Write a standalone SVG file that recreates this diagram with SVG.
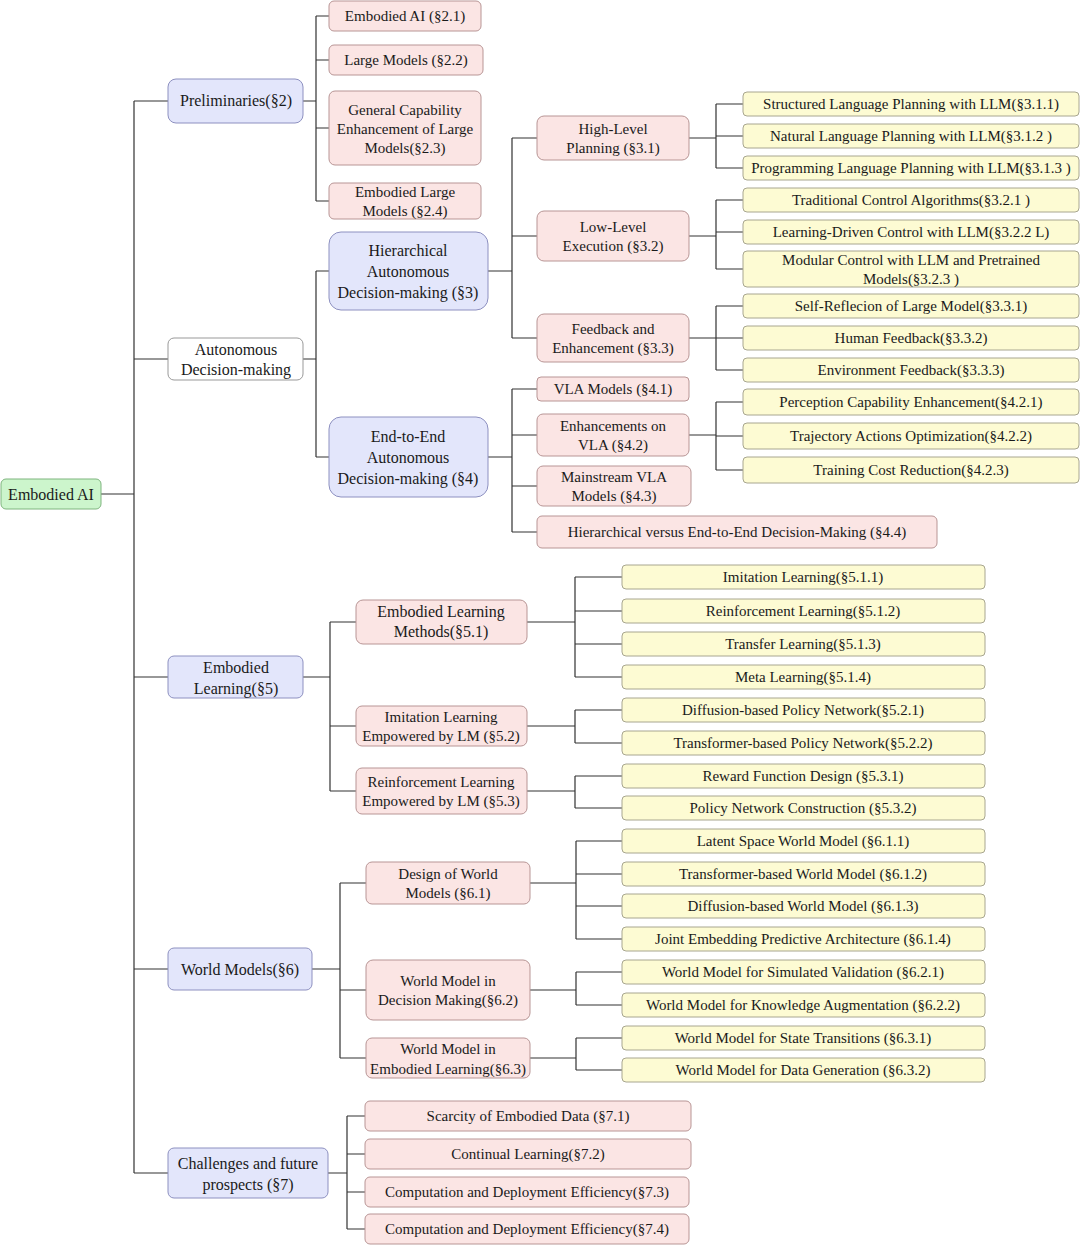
<svg xmlns="http://www.w3.org/2000/svg" width="1080" height="1245" viewBox="0 0 1080 1245">
<style>
text{font-family:"Liberation Serif","Times New Roman",serif;font-size:15px;fill:#1a1a1a;text-anchor:middle}
.big{font-size:16px}
rect{stroke-width:1}
.g{fill:#ccf5cc;stroke:#7fb57f}
.b{fill:#e3e6fb;stroke:#8d90c0}
.p{fill:#fbe5e4;stroke:#b89595}
.y{fill:#fdfbd3;stroke:#a8a690}
.w{fill:#fff;stroke:#999}
#conn path{fill:none;stroke:#333;stroke-width:1.2}
</style>
<rect width="1080" height="1245" fill="#fff"/>
<g id="conn">
<path d="M101,494H134M134,101V1173M134,101H168M134,359H168M134,677H168M134,969H168M134,1173H168"/>
<path d="M303,101H316M316,16V201M316,16H329M316,60H329M316,128H329M316,201H329"/>
<path d="M303,359H316M316,271V457M316,271H329M316,457H329"/>
<path d="M488,271H512M512,138V338M512,138H537M512,236H537M512,338H537"/>
<path d="M689,138H716M716,104V168M716,104H743M716,136H743M716,168H743"/>
<path d="M689,236H716M716,200V269M716,200H743M716,232H743M716,269H743"/>
<path d="M689,338H716M716,306V370M716,306H743M716,338H743M716,370H743"/>
<path d="M488,457H512M512,389V532M512,389H537M512,435H537M512,486H537M512,532H537"/>
<path d="M689,435H716M716,402V470M716,402H743M716,436H743M716,470H743"/>
<path d="M303,677H330M330,622V791M330,622H356M330,726H356M330,791H356"/>
<path d="M527,622H575M575,577V677M575,577H622M575,611H622M575,644H622M575,677H622"/>
<path d="M527,726H575M575,710V743M575,710H622M575,743H622"/>
<path d="M527,791H575M575,776V808M575,776H622M575,808H622"/>
<path d="M312,969H340M340,883V1058M340,883H366M340,990H366M340,1058H366"/>
<path d="M530,883H576M576,841V939M576,841H622M576,874H622M576,906H622M576,939H622"/>
<path d="M530,990H576M576,972V1005M576,972H622M576,1005H622"/>
<path d="M530,1058H576M576,1038V1070M576,1038H622M576,1070H622"/>
<path d="M328,1173H347M347,1116V1229M347,1116H365M347,1154H365M347,1192H365M347,1229H365"/>
</g>
<g id="root"><rect class="g" x="1" y="479" width="100" height="30" rx="5"/><text class="big" x="51" y="500">Embodied AI</text></g>
<g id="n2"><rect class="b" x="168" y="79" width="135" height="44" rx="8"/><text class="big" x="236" y="106">Preliminaries(§2)</text></g>
<g id="nad"><rect class="w" x="168" y="338" width="135" height="42" rx="6"/><text class="big" x="236" y="355">Autonomous</text><text class="big" x="236" y="375">Decision-making</text></g>
<g id="n5"><rect class="b" x="168" y="656" width="135" height="42" rx="6"/><text class="big" x="236" y="673">Embodied</text><text class="big" x="236" y="694">Learning(§5)</text></g>
<g id="n6"><rect class="b" x="168" y="948" width="144" height="42" rx="6"/><text class="big" x="240" y="975">World Models(§6)</text></g>
<g id="n7"><rect class="b" x="168" y="1148" width="160" height="50" rx="6"/><text class="big" x="248" y="1169">Challenges and future</text><text class="big" x="248" y="1190">prospects  (§7)</text></g>

<g id="n21"><rect class="p" x="329" y="1" width="152" height="30" rx="5"/><text x="405" y="21">Embodied AI (§2.1)</text></g>
<g id="n22"><rect class="p" x="329" y="45" width="154" height="30" rx="5"/><text x="406" y="65">Large Models (§2.2)</text></g>
<g id="n23"><rect class="p" x="329" y="91" width="152" height="74" rx="6"/><text x="405" y="115">General Capability</text><text x="405" y="134">Enhancement of Large</text><text x="405" y="153">Models(§2.3)</text></g>
<g id="n24"><rect class="p" x="329" y="183" width="152" height="36" rx="5"/><text x="405" y="197">Embodied Large</text><text x="405" y="216">Models (§2.4)</text></g>

<g id="n3"><rect class="b" x="329" y="232" width="159" height="78" rx="12"/><text class="big" x="408" y="256">Hierarchical</text><text class="big" x="408" y="277">Autonomous</text><text class="big" x="408" y="298">Decision-making (§3)</text></g>
<g id="n4"><rect class="b" x="329" y="417" width="159" height="80" rx="12"/><text class="big" x="408" y="442">End-to-End</text><text class="big" x="408" y="463">Autonomous</text><text class="big" x="408" y="484">Decision-making (§4)</text></g>

<g id="n31"><rect class="p" x="537" y="116" width="152" height="44" rx="7"/><text x="613" y="134">High-Level</text><text x="613" y="153">Planning (§3.1)</text></g>
<g id="n32"><rect class="p" x="537" y="211" width="152" height="50" rx="7"/><text x="613" y="232">Low-Level</text><text x="613" y="251">Execution (§3.2)</text></g>
<g id="n33"><rect class="p" x="537" y="314" width="152" height="48" rx="7"/><text x="613" y="334">Feedback and</text><text x="613" y="353">Enhancement (§3.3)</text></g>

<g id="y311"><rect class="y" x="743" y="92" width="336" height="24" rx="4"/><text x="911" y="109">Structured Language Planning with LLM(§3.1.1)</text></g>
<g id="y312"><rect class="y" x="743" y="124" width="336" height="24" rx="4"/><text x="911" y="141">Natural Language Planning with LLM(§3.1.2 )</text></g>
<g id="y313"><rect class="y" x="743" y="156" width="336" height="24" rx="4"/><text x="911" y="173">Programming Language Planning with LLM(§3.1.3 )</text></g>
<g id="y321"><rect class="y" x="743" y="188" width="336" height="24" rx="4"/><text x="911" y="205">Traditional Control Algorithms(§3.2.1 )</text></g>
<g id="y322"><rect class="y" x="743" y="220" width="336" height="24" rx="4"/><text x="911" y="237">Learning-Driven Control with LLM(§3.2.2 L)</text></g>
<g id="y323"><rect class="y" x="743" y="251" width="336" height="36" rx="4"/><text x="911" y="265">Modular Control with LLM and Pretrained</text><text x="911" y="284">Models(§3.2.3 )</text></g>
<g id="y331"><rect class="y" x="743" y="294" width="336" height="24" rx="4"/><text x="911" y="311">Self-Reflecion of Large Model(§3.3.1)</text></g>
<g id="y332"><rect class="y" x="743" y="326" width="336" height="24" rx="4"/><text x="911" y="343">Human Feedback(§3.3.2)</text></g>
<g id="y333"><rect class="y" x="743" y="358" width="336" height="24" rx="4"/><text x="911" y="375">Environment Feedback(§3.3.3)</text></g>

<g id="n41"><rect class="p" x="537" y="377" width="152" height="24" rx="4"/><text x="613" y="394">VLA Models (§4.1)</text></g>
<g id="n42"><rect class="p" x="537" y="414" width="152" height="42" rx="6"/><text x="613" y="431">Enhancements on</text><text x="613" y="450">VLA  (§4.2)</text></g>
<g id="n43"><rect class="p" x="537" y="466" width="154" height="40" rx="6"/><text x="614" y="482">Mainstream VLA</text><text x="614" y="501">Models (§4.3)</text></g>
<g id="n44"><rect class="p" x="537" y="516" width="400" height="32" rx="5"/><text x="737" y="537">Hierarchical versus End-to-End Decision-Making (§4.4)</text></g>
<g id="y421"><rect class="y" x="743" y="389" width="336" height="26" rx="4"/><text x="911" y="407">Perception Capability Enhancement(§4.2.1)</text></g>
<g id="y422"><rect class="y" x="743" y="423" width="336" height="26" rx="4"/><text x="911" y="441">Trajectory Actions Optimization(§4.2.2)</text></g>
<g id="y423"><rect class="y" x="743" y="457" width="336" height="26" rx="4"/><text x="911" y="475">Training Cost Reduction(§4.2.3)</text></g>

<g id="n51"><rect class="p" x="356" y="600" width="171" height="44" rx="7"/><text class="big" x="441" y="617">Embodied Learning</text><text class="big" x="441" y="637">Methods(§5.1)</text></g>
<g id="n52"><rect class="p" x="356" y="706" width="171" height="40" rx="6"/><text x="441" y="722">Imitation Learning</text><text x="441" y="741">Empowered by LM (§5.2)</text></g>
<g id="n53"><rect class="p" x="356" y="768" width="171" height="46" rx="6"/><text x="441" y="787">Reinforcement Learning</text><text x="441" y="806">Empowered by LM (§5.3)</text></g>
<g id="y511"><rect class="y" x="622" y="565" width="363" height="24" rx="4"/><text x="803" y="582">Imitation Learning(§5.1.1)</text></g>
<g id="y512"><rect class="y" x="622" y="599" width="363" height="24" rx="4"/><text x="803" y="616">Reinforcement Learning(§5.1.2)</text></g>
<g id="y513"><rect class="y" x="622" y="632" width="363" height="24" rx="4"/><text x="803" y="649">Transfer Learning(§5.1.3)</text></g>
<g id="y514"><rect class="y" x="622" y="665" width="363" height="24" rx="4"/><text x="803" y="682">Meta Learning(§5.1.4)</text></g>
<g id="y521"><rect class="y" x="622" y="698" width="363" height="24" rx="4"/><text x="803" y="715">Diffusion-based Policy Network(§5.2.1)</text></g>
<g id="y522"><rect class="y" x="622" y="731" width="363" height="24" rx="4"/><text x="803" y="748">Transformer-based Policy Network(§5.2.2)</text></g>
<g id="y531"><rect class="y" x="622" y="764" width="363" height="24" rx="4"/><text x="803" y="781">Reward Function Design (§5.3.1)</text></g>
<g id="y532"><rect class="y" x="622" y="796" width="363" height="24" rx="4"/><text x="803" y="813">Policy Network Construction (§5.3.2)</text></g>

<g id="n61"><rect class="p" x="366" y="862" width="164" height="42" rx="6"/><text x="448" y="879">Design of World</text><text x="448" y="898">Models (§6.1)</text></g>
<g id="n62"><rect class="p" x="366" y="960" width="164" height="60" rx="7"/><text x="448" y="986">World Model in</text><text x="448" y="1005">Decision Making(§6.2)</text></g>
<g id="n63"><rect class="p" x="366" y="1038" width="164" height="40" rx="6"/><text x="448" y="1054">World Model in</text><text x="448" y="1074">Embodied Learning(§6.3)</text></g>
<g id="y611"><rect class="y" x="622" y="829" width="363" height="24" rx="4"/><text x="803" y="846">Latent Space World Model (§6.1.1)</text></g>
<g id="y612"><rect class="y" x="622" y="862" width="363" height="24" rx="4"/><text x="803" y="879">Transformer-based World Model (§6.1.2)</text></g>
<g id="y613"><rect class="y" x="622" y="894" width="363" height="24" rx="4"/><text x="803" y="911">Diffusion-based World Model (§6.1.3)</text></g>
<g id="y614"><rect class="y" x="622" y="927" width="363" height="24" rx="4"/><text x="803" y="944">Joint Embedding Predictive Architecture (§6.1.4)</text></g>
<g id="y621"><rect class="y" x="622" y="960" width="363" height="24" rx="4"/><text x="803" y="977">World Model for Simulated Validation (§6.2.1)</text></g>
<g id="y622"><rect class="y" x="622" y="993" width="363" height="24" rx="4"/><text x="803" y="1010">World Model for Knowledge Augmentation (§6.2.2)</text></g>
<g id="y631"><rect class="y" x="622" y="1026" width="363" height="24" rx="4"/><text x="803" y="1043">World Model for State Transitions (§6.3.1)</text></g>
<g id="y632"><rect class="y" x="622" y="1058" width="363" height="24" rx="4"/><text x="803" y="1075">World Model for Data Generation (§6.3.2)</text></g>

<g id="n71"><rect class="p" x="365" y="1101" width="326" height="30" rx="5"/><text x="528" y="1121">Scarcity of Embodied Data (§7.1)</text></g>
<g id="n72"><rect class="p" x="365" y="1139" width="326" height="30" rx="5"/><text x="528" y="1159">Continual Learning(§7.2)</text></g>
<g id="n73"><rect class="p" x="365" y="1177" width="324" height="30" rx="5"/><text x="527" y="1197">Computation and Deployment Efficiency(§7.3)</text></g>
<g id="n74"><rect class="p" x="365" y="1214" width="324" height="30" rx="5"/><text x="527" y="1234">Computation and Deployment Efficiency(§7.4)</text></g>
</svg>
